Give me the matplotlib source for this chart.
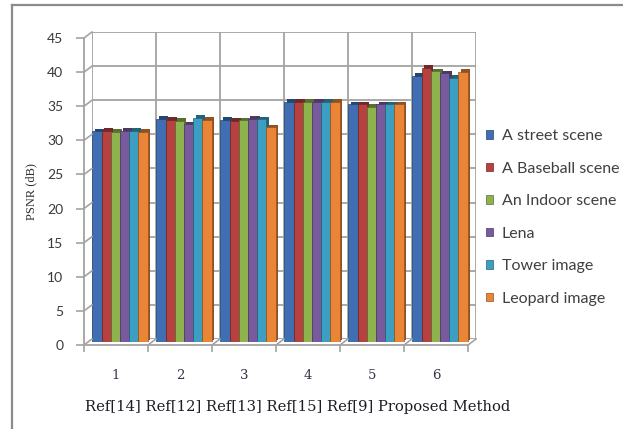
import numpy as np
import matplotlib
matplotlib.use("Agg")
import matplotlib.pyplot as plt
import matplotlib.transforms as mtransforms
from matplotlib.lines import Line2D
from matplotlib.colors import to_rgb

# PSNR (dB) per method and test image
groups = ["1", "2", "3", "4", "5", "6"]
methods = ["Ref[14]", "Ref[12]", "Ref[13]", "Ref[15]", "Ref[9]", "Proposed Method"]
series = ["A street scene", "A Baseball scene", "An Indoor scene", "Lena", "Tower image", "Leopard image"]
street = [30.9, 32.7, 32.6, 35.2, 34.85, 39.0]
baseball = [31.0, 32.6, 32.4, 35.2, 34.85, 40.2]
indoor = [30.8, 32.4, 32.5, 35.2, 34.5, 39.7]
lena = [31.0, 31.9, 32.7, 35.2, 34.85, 39.4]
tower = [31.0, 32.9, 32.65, 35.2, 34.85, 38.7]
leopard = [30.8, 32.6, 31.5, 35.2, 34.85, 39.6]
values = [street, baseball, indoor, lena, tower, leopard]
colors = ["#3f6fb2", "#b7413e", "#8db34e", "#7a5a9f", "#3a9fc0", "#ea8537"]

W, H = 623, 429
fig = plt.figure(figsize=(W / 100, H / 100), dpi=100)

# three layers fake the 3D look: back wall, bars, front axis
def axes_at(left, bottom_px, right, top_px):
    return fig.add_axes([left / W, (H - bottom_px) / H, (right - left) / W, (bottom_px - top_px) / H])

ax_back = axes_at(92, 339, 476, 32)
ax_mid = axes_at(88, 342, 472, 35)
ax = axes_at(84, 345, 468, 38)

x = np.arange(1, len(groups) + 1)
for a in (ax_back, ax_mid, ax):
    a.set_xlim(0.5, len(groups) + 0.5)
    a.set_ylim(0, 45)
    a.patch.set_visible(False)

# back wall grid
grid_c = "#a3a3a3"
for a_sp in ax_back.spines.values():
    a_sp.set_visible(False)
ax_back.set_xticks([])
ax_back.set_yticks([])
for yv in range(0, 50, 5):
    ax_back.axhline(yv, color=grid_c, lw=1.3, zorder=0)
for xv in np.arange(0.5, len(groups) + 1, 1):
    ax_back.axvline(xv, color=grid_c, lw=1.3, zorder=0)

# bars with a darker offset copy for depth
n = len(series)
bw = 0.86 / n
shade = mtransforms.offset_copy(ax_mid.transData, fig=fig, x=2.5, y=2.5, units="dots")
bars = []
for i, (vals, c) in enumerate(zip(values, colors)):
    pos = x - 0.43 + bw * (i + 0.5)
    dark = tuple(v * 0.62 for v in to_rgb(c))
    ax_mid.bar(pos, vals, bw, color=dark, transform=shade, zorder=1)
    b = ax_mid.bar(pos, vals, bw, color=c, edgecolor=dark, lw=0.5, label=series[i], zorder=2)
    bars.append(b)
ax_mid.axis("off")

# front axis: ticks and labels
for s in ("top", "right"):
    ax.spines[s].set_visible(False)
for s in ("left", "bottom"):
    ax.spines[s].set_color(grid_c)
    ax.spines[s].set_linewidth(1.3)
ax.set_yticks(range(0, 50, 5))
ax.tick_params(axis="y", length=6, width=1.2, color=grid_c, pad=9, labelsize=10, labelcolor="#3a3a3a")
for lab in ax.get_yticklabels():
    lab.set_fontfamily("Lato")
ax.set_xticks(x)
ax.set_xticklabels(groups, fontfamily="DejaVu Serif", fontsize=9.5, color="#3a3048")
ax.set_xticks(np.arange(0.5, len(groups) + 1, 1), minor=True)
ax.tick_params(axis="x", which="major", length=0, pad=17)
ax.tick_params(axis="x", which="minor", length=5, width=1.2, color=grid_c)

ax.set_ylabel("PSNR (dB)", fontfamily="Liberation Serif", fontsize=9, color="#303030", labelpad=7)

# side wall and floor connectors
def link(p, q):
    fig.add_artist(Line2D([p[0] / W, q[0] / W], [p[1] / H, q[1] / H], color=grid_c, lw=1.2,
                          transform=fig.transFigure))

for yv in range(0, 50, 5):
    link(ax.transData.transform((0.5, yv)), ax_back.transData.transform((0.5, yv)))
for xv in np.arange(1.5, len(groups) + 1, 1):
    link(ax.transData.transform((xv, 0)), ax_back.transData.transform((xv, 0)))

# method names typed as one line under the group numbers
row = mtransforms.blended_transform_factory(ax.transData, fig.transFigure)
ax.text(0.52, (H - 407) / H, " ".join(methods), transform=row, ha="left", va="center",
        fontfamily="DejaVu Serif", fontsize=10.6, color="#1c1c24")

leg = fig.legend(handles=bars, labels=series, loc="upper left",
                 bbox_to_anchor=(486 / W, (H - 129) / H), frameon=False,
                 handlelength=0.45, handleheight=0.45, handletextpad=0.55,
                 labelspacing=1.16, borderaxespad=0, borderpad=0,
                 prop={"family": "Lato", "size": 11.5})
for t in leg.get_texts():
    t.set_color("#404040")

# outer frame lines
fig.add_artist(Line2D([12 / W, 1], [(H - 5) / H] * 2, color="#8a8a8a", lw=1.6, transform=fig.transFigure))
fig.add_artist(Line2D([12 / W] * 2, [0, (H - 5) / H], color="#8a8a8a", lw=1.6, transform=fig.transFigure))

fig.savefig("out.png", dpi=100)
